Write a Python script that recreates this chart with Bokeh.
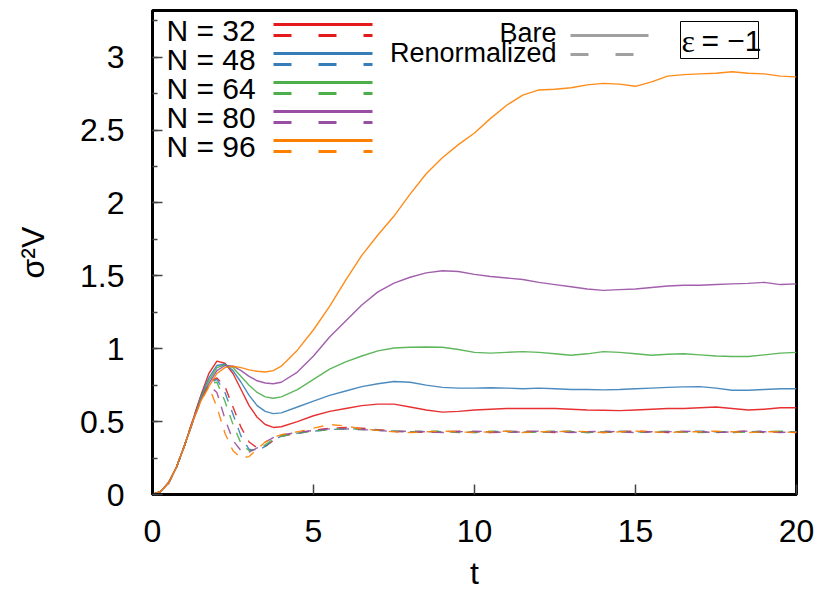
from bokeh.plotting import figure
from bokeh.models import Range1d, SingleIntervalTicker, NumeralTickFormatter, Label
from bokeh.core.properties import value
from bokeh.embed import file_html
from bokeh.resources import INLINE

# ---------------- data ----------------
t = [0.0, 0.25, 0.5, 0.75, 1.0, 1.25, 1.5, 1.75, 2.0, 2.25, 2.5, 2.75, 3.0, 3.25, 3.5, 3.75, 4.0,
     4.5, 5.0, 5.5, 6.0, 6.5, 7.0, 7.5, 8.0, 8.5, 9.0, 9.5, 10.0, 10.5, 11.0, 11.5, 12.0,
     12.5, 13.0, 13.5, 14.0, 14.5, 15.0, 15.5, 16.0, 16.5, 17.0, 17.5, 18.0, 18.5, 19.0, 19.5, 20.0]

bare_32 = [0.0, 0.02, 0.08, 0.19, 0.34, 0.51, 0.68, 0.83, 0.915, 0.90, 0.83, 0.72, 0.61, 0.53, 0.48, 0.46, 0.465,
           0.50, 0.54, 0.57, 0.59, 0.61, 0.62, 0.62, 0.60, 0.58, 0.565, 0.57, 0.58, 0.585, 0.59, 0.59, 0.59,
           0.59, 0.585, 0.58, 0.578, 0.575, 0.58, 0.585, 0.59, 0.59, 0.595, 0.60, 0.59, 0.58, 0.585, 0.595, 0.595]
bare_48 = [0.0, 0.02, 0.08, 0.19, 0.34, 0.50, 0.67, 0.80, 0.885, 0.895, 0.85, 0.77, 0.68, 0.61, 0.57, 0.555, 0.56,
           0.60, 0.64, 0.68, 0.71, 0.74, 0.76, 0.775, 0.77, 0.75, 0.735, 0.73, 0.73, 0.732, 0.73, 0.725, 0.73,
           0.725, 0.72, 0.72, 0.718, 0.72, 0.725, 0.73, 0.735, 0.738, 0.74, 0.73, 0.715, 0.715, 0.72, 0.725, 0.725]
bare_64 = [0.0, 0.02, 0.08, 0.19, 0.34, 0.50, 0.66, 0.78, 0.87, 0.89, 0.87, 0.81, 0.75, 0.70, 0.67, 0.66, 0.67,
           0.72, 0.79, 0.86, 0.91, 0.95, 0.985, 1.005, 1.01, 1.012, 1.01, 0.995, 0.975, 0.97, 0.975, 0.98, 0.975,
           0.965, 0.955, 0.965, 0.98, 0.975, 0.965, 0.955, 0.962, 0.965, 0.958, 0.95, 0.947, 0.947, 0.958, 0.97, 0.975]
bare_80 = [0.0, 0.02, 0.08, 0.19, 0.34, 0.50, 0.65, 0.76, 0.85, 0.885, 0.88, 0.85, 0.81, 0.78, 0.765, 0.76, 0.77,
           0.84, 0.95, 1.08, 1.19, 1.30, 1.39, 1.45, 1.49, 1.52, 1.535, 1.53, 1.51, 1.495, 1.485, 1.475, 1.455,
           1.44, 1.425, 1.41, 1.40, 1.405, 1.41, 1.42, 1.43, 1.435, 1.435, 1.44, 1.445, 1.448, 1.455, 1.44, 1.445]
bare_96 = [0.0, 0.02, 0.08, 0.19, 0.34, 0.50, 0.64, 0.74, 0.83, 0.87, 0.88, 0.87, 0.855, 0.845, 0.84, 0.85, 0.88,
           0.99, 1.13, 1.29, 1.47, 1.64, 1.78, 1.91, 2.06, 2.20, 2.31, 2.40, 2.48, 2.58, 2.67, 2.74, 2.775,
           2.78, 2.79, 2.81, 2.82, 2.815, 2.80, 2.83, 2.87, 2.88, 2.885, 2.89, 2.90, 2.89, 2.885, 2.87, 2.865]

ren_32 = [0.0, 0.02, 0.08, 0.19, 0.34, 0.51, 0.67, 0.77, 0.80, 0.74, 0.60, 0.46, 0.36, 0.32, 0.33, 0.37, 0.40,
          0.42, 0.44, 0.455, 0.46, 0.455, 0.445, 0.435, 0.43, 0.425, 0.43, 0.435, 0.43, 0.425, 0.43, 0.435, 0.43,
          0.425, 0.43, 0.43, 0.425, 0.43, 0.435, 0.43, 0.425, 0.43, 0.43, 0.425, 0.43, 0.435, 0.425, 0.43, 0.425]
ren_48 = [0.0, 0.02, 0.08, 0.19, 0.34, 0.50, 0.66, 0.76, 0.79, 0.70, 0.55, 0.40, 0.31, 0.30, 0.33, 0.37, 0.40,
          0.42, 0.435, 0.445, 0.45, 0.45, 0.44, 0.435, 0.43, 0.43, 0.435, 0.43, 0.425, 0.43, 0.435, 0.43, 0.425,
          0.43, 0.435, 0.425, 0.43, 0.435, 0.43, 0.425, 0.43, 0.43, 0.435, 0.43, 0.425, 0.43, 0.435, 0.43, 0.43]
ren_64 = [0.0, 0.02, 0.08, 0.19, 0.34, 0.50, 0.66, 0.76, 0.77, 0.64, 0.48, 0.35, 0.30, 0.31, 0.34, 0.38, 0.40,
          0.42, 0.435, 0.445, 0.45, 0.445, 0.44, 0.435, 0.43, 0.435, 0.43, 0.425, 0.43, 0.435, 0.43, 0.425, 0.43,
          0.435, 0.43, 0.425, 0.43, 0.43, 0.425, 0.43, 0.435, 0.43, 0.425, 0.43, 0.43, 0.425, 0.43, 0.435, 0.43]
ren_80 = [0.0, 0.02, 0.08, 0.19, 0.34, 0.50, 0.65, 0.75, 0.70, 0.52, 0.37, 0.30, 0.29, 0.32, 0.36, 0.39, 0.41,
          0.425, 0.44, 0.45, 0.45, 0.445, 0.44, 0.43, 0.435, 0.43, 0.425, 0.43, 0.435, 0.43, 0.425, 0.43, 0.435,
          0.43, 0.425, 0.43, 0.435, 0.43, 0.425, 0.43, 0.43, 0.435, 0.43, 0.425, 0.43, 0.435, 0.43, 0.425, 0.43]
ren_96 = [0.0, 0.02, 0.08, 0.19, 0.34, 0.50, 0.64, 0.74, 0.60, 0.42, 0.30, 0.25, 0.26, 0.31, 0.36, 0.39, 0.41,
          0.43, 0.455, 0.48, 0.47, 0.45, 0.44, 0.43, 0.425, 0.43, 0.435, 0.43, 0.425, 0.43, 0.435, 0.425, 0.43,
          0.43, 0.435, 0.43, 0.425, 0.43, 0.435, 0.43, 0.425, 0.43, 0.43, 0.435, 0.43, 0.425, 0.43, 0.43, 0.425]

series_labels = ["N = 32", "N = 48", "N = 64", "N = 80", "N = 96"]
bare = [bare_32, bare_48, bare_64, bare_80, bare_96]
renorm = [ren_32, ren_48, ren_64, ren_80, ren_96]
colors = ["#e41a1c", "#377eb8", "#4daf4a", "#984ea3", "#ff7f00"]
style_labels = ["Bare", "Renormalized"]
annotation_text = ["\u03b5", "= \u22121"]

# ---------------- layout ----------------
W, H = 821, 593
FL, FR, FT, FB = 152, 796, 10, 494
X0, X1, Y0, Y1 = 0.0, 20.0, 0.0, 3.32
FONT = "Liberation Sans"

def dx(px):
    return X0 + (px - FL) / (FR - FL) * (X1 - X0)

def dy(py):
    return Y0 + (FB - py) / (FB - FT) * (Y1 - Y0)

p = figure(width=W, height=H, output_backend="svg", toolbar_location=None,
           x_range=Range1d(X0, X1), y_range=Range1d(Y0, Y1),
           min_border_left=FL, min_border_right=W - FR, min_border_top=FT,
           min_border_bottom=H - FB, x_axis_label="t", y_axis_label="\u03c3\u00b2V")
p.background_fill_color = "white"
p.border_fill_color = "white"
p.outline_line_color = "black"
p.outline_line_width = 3
p.xgrid.visible = False
p.ygrid.visible = False

p.xaxis.ticker = SingleIntervalTicker(interval=5, num_minor_ticks=0)
p.yaxis.ticker = SingleIntervalTicker(interval=0.5, num_minor_ticks=2)
p.yaxis.formatter = NumeralTickFormatter(format="0.[0]")
for ax in (p.xaxis[0], p.yaxis[0]):
    ax.axis_line_width = 3
    ax.axis_line_color = "black"
    ax.major_tick_in = 10
    ax.major_tick_out = 0
    ax.minor_tick_in = 5
    ax.minor_tick_out = 0
    ax.major_tick_line_color = "#444444"
    ax.minor_tick_line_color = "#444444"
    ax.major_tick_line_width = 1.5
    ax.minor_tick_line_width = 1.5
    ax.major_label_text_font = FONT
    ax.major_label_text_font_size = "32px"
    ax.major_label_text_color = "black"
    ax.axis_label_text_font = FONT
    ax.axis_label_text_font_size = "32px"
    ax.axis_label_text_font_style = "normal"
    ax.axis_label_text_color = "black"
p.xaxis.major_label_standoff = 25
p.xaxis.axis_label_standoff = 10
p.yaxis.major_label_standoff = 28
p.yaxis.axis_label_standoff = 26

# curves
for y, c in zip(renorm, colors):
    p.line(t, y, line_color=c, line_width=1.4, line_dash="10 9", line_alpha=0.9)
for y, c in zip(bare, colors):
    p.line(t, y, line_color=c, line_width=1.4, line_alpha=0.9)

# ---------------- key (N) ----------------
row_y = [30, 59, 88, 117, 146]
for lab, c, ry in zip(series_labels, colors, row_y):
    p.add_layout(Label(x=dx(166), y=dy(ry), text=lab, text_font=FONT, text_font_size="30px",
                       text_baseline="middle", text_align="left", text_color="black"))
    p.line([dx(273), dx(372)], [dy(ry - 6), dy(ry - 6)], line_color=c, line_width=3)
    p.line([dx(273), dx(372)], [dy(ry + 5), dy(ry + 5)], line_color=c, line_width=3, line_dash="18 27")

# ---------------- key (style) ----------------
p.add_layout(Label(x=dx(556), y=dy(32), text=style_labels[0], text_font=FONT, text_font_size="27px",
                   text_baseline="middle", text_align="right", text_color="black"))
p.add_layout(Label(x=dx(556), y=dy(52), text=style_labels[1], text_font=FONT, text_font_size="27px",
                   text_baseline="middle", text_align="right", text_color="black"))
p.line([dx(570), dx(648)], [dy(35), dy(35)], line_color="#a0a0a0", line_width=3)
p.line([dx(570), dx(648)], [dy(54), dy(54)], line_color="#a0a0a0", line_width=3, line_dash="18 27")

# ---------------- epsilon box ----------------
p.quad(left=dx(680), right=dx(758), top=dy(21), bottom=dy(58), fill_color=None,
       line_color="black", line_width=1)
p.add_layout(Label(x=dx(681), y=dy(40), text=annotation_text[0], text_font="Liberation Serif",
                   text_font_size="32px", text_baseline="middle", text_align="left", text_color="black"))
p.add_layout(Label(x=dx(701), y=dy(40), text=annotation_text[1], text_font=FONT,
                   text_font_size="30px", text_baseline="middle", text_align="left", text_color="black"))

open("out.html", "w").write(file_html(p, INLINE))
